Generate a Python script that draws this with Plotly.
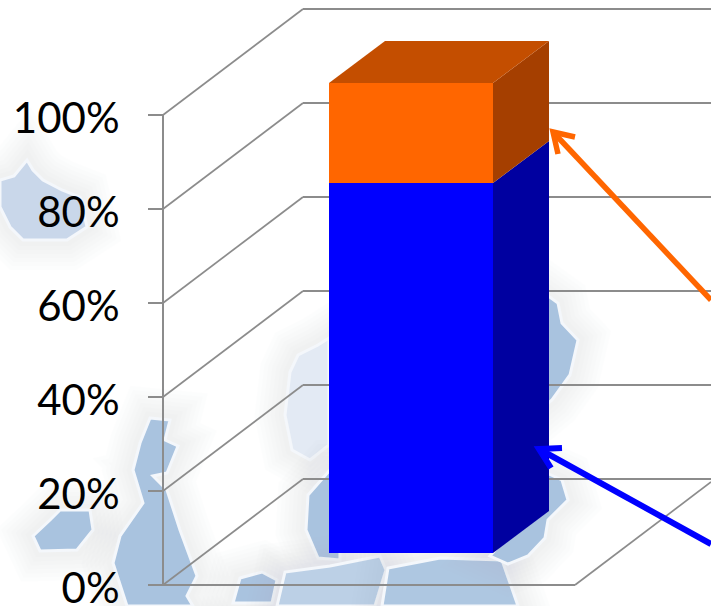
import plotly.graph_objects as go

# ---- data ----
categories = ["Share"]
series_names = ["Blue", "Orange"]
series_values = [78.7, 21.3]
tick_values = [0, 20, 40, 60, 80, 100]
tick_labels = ["0%", "20%", "40%", "60%", "80%", "100%"]

W, H = 711, 606
PX_PER_PCT = 4.7
Y0_PX = 585


def v(py):
    """canvas pixel row -> value on the y axis"""
    return (Y0_PX - py) / PX_PER_PCT


# oblique projection
WALL_DX, WALL_DY = 140, 106 / PX_PER_PCT
AXIS_X, FLOOR_RIGHT, EDGE = 163, 575, 711
BAR_CX, BAR_W = 411, 164
BAR_DX, BAR_DY = 56, 42 / PX_PER_PCT
BAR_BASE = 32 / PX_PER_PCT

GRID = "#8c8c8c"
FRONT = ["#0000ff", "#ff6600"]
SIDE = ["#0000a0", "#a53f00"]
TOP = "#c44e00"

# decorative map in the background (canvas pixels)
map_blobs = [
    ("#c9d7ea", [(0,180),(14,176),(27,160),(33,170),(43,180),(62,190),(80,197),(87,227),(67,240),(23,240),(10,227),(0,207)]),
    ("#a9c3df", [(33,536),(50,520),(60,510),(90,510),(93,530),(77,550),(40,551)]),
    ("#a9c3df", [(150,418),(170,420),(165,440),(178,446),(167,473),(153,476),(167,490),(180,530),(197,576),(187,596),(193,606),(127,606),(113,563),(120,536),(143,503),(133,470),(140,443)]),
    ("#e3eaf4", [(290,372),(298,355),(318,345),(329,338),(329,445),(310,460),(292,450),(285,415)]),
    ("#a9c3df", [(308,495),(330,470),(340,470),(340,560),(318,558),(306,530)]),
    ("#a9c3df", [(233,603),(240,578),(262,572),(277,580),(272,603)]),
    ("#bcd0e6", [(277,606),(285,572),(330,566),(380,556),(386,570),(375,606)]),
    ("#aec7e1", [(382,606),(388,568),(440,558),(502,560),(518,606)]),
    ("#a9c3df", [(540,470),(562,480),(568,500),(548,520),(545,538),(528,556),(508,564),(490,556),(530,510)]),
    ("#a9c3df", [(540,290),(558,303),(562,323),(578,340),(570,375),(552,400),(540,410)]),
]

fig = go.Figure()

shapes = []
for colour, pts in map_blobs:
    path = "M " + " L ".join(f"{x},{v(y):.3f}" for x, y in pts) + " Z"
    for width in (60, 52, 44, 36, 28, 20, 12):
        shapes.append(dict(type="path", path=path, xref="x", yref="y", layer="below",
                           line=dict(color="#b4bccc", width=width), fillcolor="rgba(0,0,0,0)",
                           opacity=0.025))
    shapes.append(dict(type="path", path=path, xref="x", yref="y", layer="below",
                       line=dict(color="#f4f7fb", width=3), fillcolor=colour))


def seg(x0, y0, x1, y1, width=1.7):
    shapes.append(dict(type="line", xref="x", yref="y", layer="below", x0=x0, y0=y0, x1=x1, y1=y1,
                       line=dict(color=GRID, width=width)))


for t in tick_values:
    seg(AXIS_X, t, AXIS_X + WALL_DX, t + WALL_DY)
    seg(AXIS_X + WALL_DX, t + WALL_DY, EDGE, t + WALL_DY, 2)
seg(AXIS_X, 0, FLOOR_RIGHT, 0, 2)
seg(FLOOR_RIGHT, 0, EDGE, (EDGE - FLOOR_RIGHT) * WALL_DY / WALL_DX)
seg(AXIS_X, 0, AXIS_X, tick_values[-1], 2)

# front faces
base = BAR_BASE
for name, val, col in zip(series_names, series_values, FRONT):
    fig.add_trace(go.Bar(x=[BAR_CX], y=[val], base=[base], width=[BAR_W], name=name,
                         marker=dict(color=col, line=dict(width=0))))
    base += val

# side and top faces
xr = BAR_CX + BAR_W / 2
xl = BAR_CX - BAR_W / 2
base = BAR_BASE
for val, col in zip(series_values, SIDE):
    fig.add_trace(go.Scatter(
        x=[xr, xr + BAR_DX, xr + BAR_DX, xr, xr],
        y=[base, base + BAR_DY, base + val + BAR_DY, base + val, base],
        mode="lines", fill="toself", fillcolor=col, line=dict(width=0), hoverinfo="skip"))
    base += val
fig.add_trace(go.Scatter(
    x=[xl, xl + BAR_DX, xr + BAR_DX, xr, xl],
    y=[base, base + BAR_DY, base + BAR_DY, base, base],
    mode="lines", fill="toself", fillcolor=TOP, line=dict(width=0), hoverinfo="skip"))

# callout arrows
arrows = [
    ("#ff6600", 5.5, (711, 300), (553, 132), (575, 137), (558, 154)),
    ("#0000ff", 6, (711, 544), (539, 449), (562, 448), (551, 468)),
]
for col, width, tail, tip, h1, h2 in arrows:
    fig.add_trace(go.Scatter(x=[tail[0], tip[0]], y=[v(tail[1]), v(tip[1])], mode="lines",
                             line=dict(color=col, width=width), hoverinfo="skip"))
    fig.add_trace(go.Scatter(x=[h1[0], tip[0], h2[0]], y=[v(h1[1]), v(tip[1]), v(h2[1])], mode="lines",
                             line=dict(color=col, width=width), hoverinfo="skip"))

fig.update_layout(
    width=W, height=H, margin=dict(l=0, r=0, t=0, b=0, autoexpand=False), autosize=False,
    paper_bgcolor="white", plot_bgcolor="rgba(0,0,0,0)", showlegend=False,
    barmode="overlay", shapes=shapes,
    font=dict(family="Lato, Carlito, sans-serif", color="black"),
    xaxis=dict(range=[0, W], visible=False, domain=[0, 1], fixedrange=True),
    yaxis=dict(range=[v(H), v(0)], anchor="free", position=AXIS_X / W, domain=[0, 1],
               tickmode="array", tickvals=tick_values, ticktext=tick_labels,
               ticks="outside", ticklen=15, tickwidth=2, tickcolor=GRID,
               showline=False, showgrid=False, zeroline=False, tickfont=dict(size=42),
               ticklabelstandoff=20, ticklabelshift=3, ticklabeloverflow="allow", fixedrange=True),
)

fig.write_html("out.html", config=dict(displayModeBar=False),
               post_script="document.body.style.margin='0';document.body.style.overflow='hidden';")
